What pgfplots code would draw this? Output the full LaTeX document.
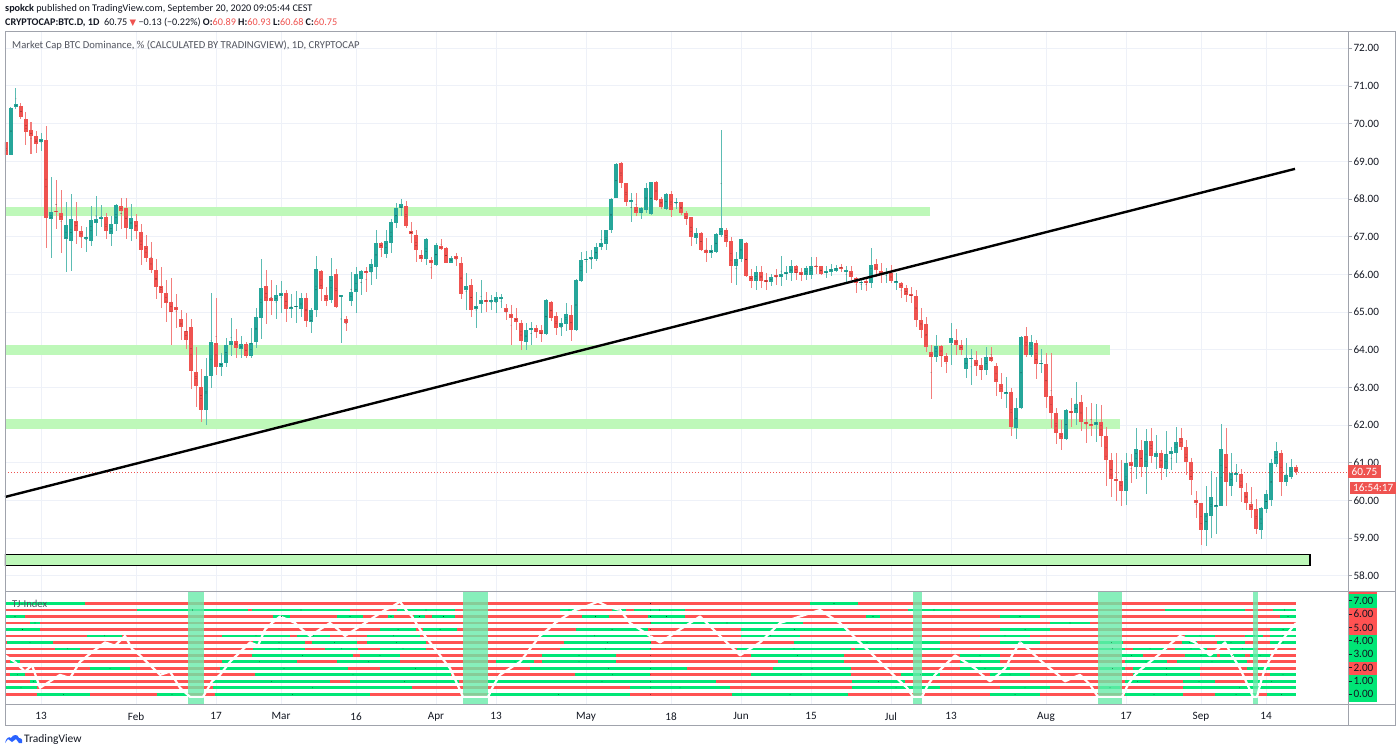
\documentclass[border=0pt]{standalone}
\usepackage{fontspec}
\setmainfont{Carlito}
\newfontfamily\dejavu{DejaVu Sans}
\usepackage{pgfplots}
\usepackage{pgfplotstable}
\pgfplotsset{compat=1.18}
\definecolor{tvup}{HTML}{26A69A}
\definecolor{tvdn}{HTML}{EF5350}
\definecolor{zone}{RGB}{190,248,185}
\definecolor{gridc}{RGB}{238,241,248}
\definecolor{framec}{RGB}{160,163,172}
\definecolor{txt}{HTML}{131722}
\definecolor{txtg}{HTML}{50535E}
\definecolor{tjred}{RGB}{255,82,82}
\definecolor{tjgreen}{RGB}{0,230,118}
\definecolor{band}{RGB}{105,235,170}
\definecolor{tvblue}{HTML}{2962FF}

\pgfplotstableread{
d o h l c
5 69.52 69.67 68.90 69.17
6 69.17 70.45 69.17 70.41
7 70.43 70.94 70.38 70.52
8 70.48 70.54 70.12 70.19
9 70.12 70.32 69.42 69.77
10 69.83 70.04 69.19 69.66
11 69.67 69.81 69.23 69.46
12 69.50 69.74 69.28 69.59
13 69.57 69.95 66.69 67.49
14 67.47 68.59 66.43 67.65
15 67.69 68.51 67.20 67.65
16 67.62 68.24 66.56 67.43
17 66.93 67.91 66.05 67.31
18 66.89 68.13 66.09 67.47
19 67.42 67.93 66.80 67.16
20 67.16 67.29 66.69 67.00
21 66.95 67.25 66.60 67.00
22 66.89 67.81 66.74 67.44
23 67.37 68.08 67.02 67.46
24 67.46 67.83 67.25 67.51
25 67.51 67.62 66.93 67.16
26 67.07 67.55 66.74 67.35
27 67.34 67.87 67.16 67.83
28 67.81 68.03 67.20 67.69
29 67.75 68.03 66.93 67.24
30 67.20 67.86 66.89 67.49
31 67.42 67.59 66.93 67.16
32 67.12 67.34 66.25 66.65
33 66.75 67.04 66.34 66.43
34 66.43 66.87 66.04 66.12
35 66.12 66.40 65.34 65.66
36 65.69 66.20 65.10 65.51
37 65.51 65.85 64.73 65.25
38 65.27 65.90 64.12 65.01
39 65.12 65.48 64.57 65.05
40 64.81 65.05 64.27 64.59
41 64.50 64.97 64.01 64.26
42 64.61 64.81 62.95 63.44
43 63.42 64.08 62.49 63.04
44 63.02 63.48 62.09 62.40
45 62.40 63.77 62.00 63.30
46 63.30 65.50 62.97 64.20
47 64.17 65.36 63.33 63.55
48 63.55 63.90 63.30 63.65
49 63.65 64.30 63.55 64.12
50 64.12 64.83 63.82 64.23
51 64.23 64.54 63.77 64.05
52 64.03 64.35 63.77 64.15
53 64.15 64.21 63.77 63.83
54 63.83 64.57 63.77 64.19
55 64.21 65.10 64.04 64.86
56 64.85 66.40 64.28 65.65
57 65.69 66.12 64.67 65.28
58 65.38 65.85 64.92 65.30
59 65.28 65.72 64.81 65.45
60 65.43 65.81 64.98 65.50
61 65.50 65.59 64.74 65.07
62 65.09 65.47 64.83 65.14
63 65.13 65.56 64.72 65.17
64 65.09 65.50 64.88 65.38
65 65.36 65.50 64.59 64.76
66 64.74 65.10 64.45 65.04
67 65.04 66.49 64.88 66.14
68 66.09 66.12 65.28 65.62
69 65.45 65.67 65.16 65.28
70 65.32 66.43 65.25 65.96
71 66.00 66.14 65.10 65.13
72 65.41 65.46 64.17 65.44
73 64.82 64.89 64.50 64.70
74 65.29 66.05 65.16 65.54
75 65.52 66.20 64.98 66.00
76 65.87 66.12 65.45 66.10
77 66.09 66.19 65.54 66.05
78 66.07 66.40 65.72 66.28
79 66.20 67.18 65.87 66.82
80 66.82 66.87 66.47 66.71
81 66.54 67.18 66.44 66.89
82 66.84 67.46 66.56 67.40
83 67.36 67.90 67.22 67.77
84 67.75 68.00 67.55 67.87
85 67.82 67.95 67.22 67.27
86 67.15 67.40 66.82 67.07
87 67.05 67.18 66.34 66.65
88 66.51 66.65 66.34 66.40
89 66.41 66.96 66.25 66.94
90 66.38 66.47 65.89 66.31
91 66.26 66.82 66.22 66.78
92 66.75 66.95 66.65 66.68
93 66.69 66.72 66.29 66.31
94 66.31 66.49 66.29 66.44
95 66.49 66.57 66.23 66.40
96 66.31 66.47 65.34 65.48
97 65.58 66.03 65.05 65.69
98 65.73 65.89 64.88 65.05
99 65.08 65.54 64.57 65.16
100 65.21 65.85 64.98 65.32
101 65.32 65.54 65.01 65.29
102 65.27 65.45 65.05 65.32
103 65.27 65.54 64.98 65.39
104 65.36 65.48 65.10 65.38
105 65.10 65.20 64.80 65.01
106 64.96 65.18 64.12 64.83
107 64.85 65.10 64.52 64.74
108 64.72 64.79 63.99 64.23
109 64.21 64.72 63.99 64.52
110 64.52 64.74 64.12 64.58
111 64.57 64.65 64.30 64.48
112 64.52 64.65 64.21 64.41
113 64.42 65.35 64.40 65.32
114 65.27 65.30 64.77 64.83
115 64.90 64.99 64.39 64.58
116 64.59 64.83 64.36 64.72
117 64.68 65.23 64.49 64.94
118 64.92 65.18 64.24 64.52
119 64.52 65.88 64.50 65.85
120 65.82 66.60 65.80 66.38
121 66.38 66.62 66.04 66.42
122 66.40 66.66 66.13 66.45
123 66.42 66.82 66.35 66.72
124 66.72 67.19 66.65 66.84
125 66.80 67.19 66.65 67.18
126 67.19 68.02 67.11 68.00
127 68.03 68.95 68.03 68.93
128 68.96 68.99 68.28 68.42
129 68.42 68.42 67.81 67.93
130 67.93 68.15 67.40 67.97
131 67.78 68.15 67.55 67.62
132 67.62 67.80 67.46 67.75
133 67.72 68.42 67.64 68.30
134 67.60 68.46 67.58 68.44
135 68.45 68.47 67.95 67.98
136 68.00 68.06 67.73 67.80
137 67.73 68.15 67.71 68.13
138 68.13 68.20 67.53 67.71
139 67.89 68.02 67.73 67.93
140 67.91 67.93 67.58 67.64
141 67.62 67.67 67.31 67.46
142 67.52 67.53 66.75 66.98
143 66.96 67.22 66.81 67.11
144 67.09 67.12 66.62 66.65
145 66.65 66.96 66.34 66.58
146 66.56 66.78 66.43 66.65
147 66.59 67.09 66.56 67.07
148 67.05 69.83 67.00 67.22
149 67.18 67.22 66.72 66.87
150 66.89 67.00 65.76 66.21
151 66.21 66.60 65.72 66.40
152 66.40 66.95 66.34 66.93
153 66.83 66.85 65.94 65.96
154 65.96 66.14 65.63 65.83
155 65.83 66.21 65.59 66.07
156 66.07 66.21 65.63 65.83
157 65.85 66.03 65.59 65.81
158 65.81 66.01 65.70 65.94
159 65.97 66.14 65.72 65.94
160 65.94 66.49 65.68 66.01
161 66.01 66.21 65.85 66.05
162 66.03 66.37 65.83 66.21
163 66.23 66.25 65.85 66.03
164 66.05 66.16 65.83 65.99
165 65.99 66.21 65.85 66.16
166 65.99 66.45 65.87 66.22
167 66.23 66.45 66.01 66.19
168 66.21 66.23 65.99 66.01
169 66.03 66.22 65.90 66.09
170 66.07 66.28 65.96 66.14
171 66.10 66.25 66.05 66.18
172 66.20 66.28 66.07 66.14
173 66.05 66.21 65.78 66.12
174 66.09 66.21 65.85 65.92
175 65.90 65.94 65.50 65.76
176 65.76 65.87 65.59 65.81
177 65.80 65.89 65.56 65.78
178 65.78 66.69 65.63 66.25
179 66.27 66.41 65.92 66.11
180 66.10 66.29 65.76 65.98
181 66.01 66.16 65.78 66.07
182 66.03 66.25 65.78 65.83
183 65.78 66.03 65.58 65.83
184 65.78 65.80 65.36 65.64
185 65.64 65.71 65.27 65.45
186 65.47 65.67 65.23 65.42
187 65.42 65.58 64.59 64.80
188 64.80 65.10 64.30 64.52
189 64.67 64.86 63.95 64.08
190 63.93 64.12 62.68 63.81
191 63.81 64.39 63.68 64.10
192 64.10 64.12 63.55 63.83
193 63.83 63.90 63.39 63.68
194 64.17 64.70 63.59 64.30
195 64.27 64.56 63.86 64.12
196 64.12 64.26 63.86 63.99
197 63.49 64.30 63.26 63.79
198 63.75 64.03 63.06 63.79
199 63.74 63.97 63.30 63.56
200 63.59 63.77 63.19 63.46
201 63.46 64.06 63.33 63.81
202 63.81 64.06 63.68 63.71
203 63.57 63.64 62.77 63.15
204 63.08 63.39 62.68 62.88
205 62.84 63.28 62.44 62.88
206 62.87 62.97 61.71 61.94
207 61.93 62.71 61.62 62.44
208 62.44 64.35 62.42 64.33
209 64.37 64.59 63.81 63.86
210 63.86 64.39 63.81 64.21
211 64.19 64.27 63.21 63.62
212 63.62 64.03 63.37 63.65
213 63.62 63.90 62.44 62.75
214 62.77 63.92 61.91 62.31
215 62.31 62.44 61.51 61.78
216 61.78 62.13 61.35 61.62
217 61.62 62.42 61.60 62.40
218 62.37 62.71 61.95 62.33
219 62.31 63.15 62.00 62.57
220 62.60 62.80 61.83 62.09
221 62.08 62.49 61.52 62.03
222 62.03 62.58 61.70 61.99
223 62.01 62.55 61.56 62.08
224 62.07 62.54 61.43 61.71
225 61.71 61.96 60.39 61.08
226 61.08 61.25 60.10 60.56
227 60.56 61.25 59.99 60.52
228 60.52 61.08 59.85 60.26
229 60.26 61.25 59.88 60.99
230 61.01 61.24 60.46 60.90
231 60.88 61.93 60.56 61.36
232 61.34 61.61 60.63 60.88
233 60.88 61.89 60.17 61.58
234 61.58 61.92 60.99 61.18
235 61.16 61.74 60.83 61.25
236 61.25 61.34 60.53 60.87
237 60.83 61.83 60.63 61.24
238 61.24 61.43 60.81 61.32
239 61.27 61.96 60.99 61.56
240 61.65 61.92 61.34 61.43
241 61.43 61.61 60.68 61.03
242 61.03 61.12 60.15 60.54
243 60.01 60.24 59.53 59.94
244 59.93 59.94 58.82 59.22
245 59.22 60.39 58.78 59.66
246 59.59 60.78 59.00 60.08
247 59.84 60.63 59.11 59.88
248 59.84 62.02 59.84 61.36
249 61.24 61.93 59.84 60.50
250 60.39 61.27 60.12 60.72
251 60.68 60.97 60.50 60.74
252 60.70 60.83 59.97 60.32
253 60.22 60.47 59.75 59.94
254 59.91 60.35 59.53 59.75
255 59.78 60.03 59.10 59.24
256 59.22 59.82 58.97 59.79
257 59.77 60.28 59.66 60.17
258 60.00 61.09 59.85 61.00
259 60.97 61.56 60.88 61.32
260 61.25 61.34 60.12 60.50
261 60.50 60.99 60.39 60.68
262 60.63 61.09 60.57 60.88
263 60.89 60.93 60.68 60.75
}\candles

% TJ-Index rows (x in chart pixels, k = row number)
\pgfplotstableread{
a b k
5 1296 0
5 1296 1
5 1296 2
5 1296 3
5 1296 4
5 1296 5
5 1296 6
5 1296 7
5 1296 8
5 1296 9
5 1296 10
5 1296 11
5 1296 12
5 1296 13
5 1296 14
}\tjredrows

\pgfplotstableread{
a b k
37 90 0
157 187 0
215 370 0
487 630 0
732 848 0
990 1040 0
1125 1183 0
1215 1257 0
1267 1296 0
5 37 1
213 412 1
630 730 1
852 940 1
1000 1050 1
1100 1120 1
1183 1296 1
30 37 2
213 330 2
350 459 2
488 716 2
852 905 2
1125 1150 2
1183 1215 2
1247 1296 2
10 25 3
255 451 3
575 650 3
751 851 3
901 940 3
990 1030 3
1133 1200 3
1270 1296 3
90 130 4
220 348 4
380 451 4
530 687 4
773 851 4
960 1010 4
1100 1125 4
1133 1200 4
1247 1270 4
10 20 5
222 297 5
337 400 5
496 534 5
542 616 5
778 844 5
960 1000 5
1125 1167 5
1177 1247 5
252 353 6
360 400 6
542 616 6
751 844 6
960 1000 6
1120 1143 6
1185 1217 6
1220 1245 6
1250 1270 6
55 80 7
253 305 7
325 358 7
380 426 7
560 651 7
737 851 7
855 940 7
1100 1125 7
1133 1167 7
1175 1207 7
1230 1255 7
7 53 8
253 305 8
312 357 8
367 426 8
564 651 8
794 940 8
1000 1040 8
1100 1123 8
1182 1197 8
1217 1245 8
1270 1296 8
87 122 9
222 290 9
297 330 9
367 420 9
541 648 9
741 800 9
980 1030 9
1185 1215 9
1245 1263 9
1270 1296 9
5 40 10
380 416 10
423 457 10
576 648 10
741 848 10
1000 1050 10
1270 1296 10
30 40 11
651 803 11
1050 1090 11
5 25 12
273 290 12
337 363 12
388 394 12
414 425 12
432 455 12
582 609 12
648 685 12
866 880 12
1000 1040 12
1280 1296 12
137 248 13
252 350 13
397 455 13
560 578 13
612 626 13
634 685 13
908 960 13
1165 1245 13
1273 1296 13
5 85 14
810 858 14
}\tjgreenrows

\pgfplotstableread{
x k
5 6
15 5
25 3.5
32 4.5
40 1
50 2
60 3
70 2.5
80 5
92 6.5
105 8
115 7.5
125 9
132 7
140 6
150 4.5
160 3
170 3.5
180 1
190 -0.4
203 -0.4
212 2
220 3
230 5
240 6.5
250 8
258 7.5
265 10
272 11
280 12
288 11.5
295 11
302 10
310 9
320 10
330 11
338 10
345 9
355 10
365 11
375 12
385 13
392 13.5
400 14.3
406 13
412 12
420 10
430 8
440 6
450 4
456 2
463 -0.4
488 -0.4
494 1.5
500 3
510 4
520 5
530 7
540 9
548 10
555 11
565 12
575 13
585 13.5
598 14.3
608 13.5
620 13
630 11
640 10
650 9
660 8
670 9
680 10
690 11
700 12
710 10.5
720 9
730 7.5
740 6
750 7
760 8
770 9.5
780 11
790 11.5
800 12
810 12.5
820 13
830 12
840 11
850 9.5
860 8
870 6.5
880 5
890 3.5
900 2
907 1
913 -0.4
922 -0.4
928 1.5
935 3
945 4.5
955 6
965 5
975 4
982 3
990 2
998 3
1005 4
1012 6
1020 8
1028 7
1035 6
1042 5
1050 4
1058 3
1065 2
1072 2.5
1080 3
1090 1.5
1098 -0.4
1122 -0.4
1128 1.5
1135 3
1142 4
1150 5
1158 6
1165 7
1172 8
1180 9
1188 8.5
1195 8
1202 7
1210 6
1218 7
1225 8
1232 6
1240 4
1246 2
1253 -0.4
1257 -0.4
1261 2
1265 4
1272 6
1280 8
1288 9.5
1296 11
}\tjwhite

\newcommand{\fsH}{\fontsize{10.2}{12}\selectfont}
\newcommand{\fsA}{\fontsize{10.6}{12}\selectfont}
\newcommand{\fsT}{\fontsize{11.2}{12}\selectfont}

\begin{document}
\begin{tikzpicture}[x=1pt,y=1pt]
\path[use as bounding box] (0,0) rectangle (1400,753);
\fill[white] (0,0) rectangle (1400,753);

% right label blocks of the lower panel
\fill[tjred]   (1348,158.7) rectangle (1377,161.3);
\fill[tjgreen] (1348,144.7) rectangle (1377,158.7);
\fill[tjred]   (1348,118.0) rectangle (1377,144.7);
\fill[tjgreen] (1348,91.3)  rectangle (1377,118.0);
\fill[tjred]   (1348,78.0)  rectangle (1377,91.3);
\fill[tjgreen] (1348,51.3)  rectangle (1377,78.0);

% ---------------- main panel
\begin{axis}[
  at={(5pt,162pt)}, anchor=south west,
  scale only axis, width=1343pt, height=559pt,
  xmin=4.8, xmax=273.4, ymin=57.594, ymax=72.433,
  axis line style={draw=none},
  xtick={12,31,47,60,75,91,103,121,138,152,166,182,194,213,229,244,257},
  xticklabels={},
  xtick style={draw=none},
  ytick={58,59,...,72},
  ytick pos=right, yticklabel pos=right,
  ytick style={draw=framec, line width=0.8pt},
  tick align=outside, major tick length=4pt,
  yticklabel style={font=\fsT, text=txt, xshift=-2pt},
  /pgf/number format/fixed, /pgf/number format/fixed zerofill,
  /pgf/number format/precision=2, /pgf/number format/assume math mode=true,
  xmajorgrids, ymajorgrids, major grid style={draw=gridc, line width=1pt},
]
% support / resistance zones
\addplot[fill=zone, draw=none] coordinates {(4.8,67.56) (189.8,67.56) (189.8,67.79) (4.8,67.79)} -- cycle;
\addplot[fill=zone, draw=none] coordinates {(4.8,63.85) (225.8,63.85) (225.8,64.12) (4.8,64.12)} -- cycle;
\addplot[fill=zone, draw=none] coordinates {(4.8,61.89) (227.8,61.89) (227.8,62.16) (4.8,62.16)} -- cycle;
\addplot[fill=zone, draw=black, line width=1.2pt] coordinates {(4.8,58.27) (265.8,58.27) (265.8,58.57) (4.8,58.57)} -- cycle;
% last price line
\addplot[tvdn, line width=0.8pt, dash pattern=on 1pt off 2pt] coordinates {(4.8,60.75) (273.4,60.75)};
% wicks
\addplot[only marks, mark=*, mark size=0.01pt, mark options={draw=none,fill=none},
  restrict expr to domain={\thisrow{c}-\thisrow{o}}{0:100},
  error bars/.cd, y dir=both, y explicit, error mark=none,
  error bar style={draw=tvup!75!white, line width=1pt}]
  table[x=d, y expr={(\thisrow{h}+\thisrow{l})/2}, y error expr={(\thisrow{h}-\thisrow{l})/2}] {\candles};
\addplot[only marks, mark=*, mark size=0.01pt, mark options={draw=none,fill=none},
  restrict expr to domain={\thisrow{c}-\thisrow{o}}{-100:-0.000001},
  error bars/.cd, y dir=both, y explicit, error mark=none,
  error bar style={draw=tvdn!75!white, line width=1pt}]
  table[x=d, y expr={(\thisrow{h}+\thisrow{l})/2}, y error expr={(\thisrow{h}-\thisrow{l})/2}] {\candles};
% bodies
\addplot[only marks, mark=*, mark size=0.01pt, mark options={draw=none,fill=none},
  restrict expr to domain={\thisrow{c}-\thisrow{o}}{0:100},
  error bars/.cd, y dir=both, y explicit, error mark=none,
  error bar style={draw=tvup, line width=3.6pt}]
  table[x=d, y expr={(\thisrow{o}+\thisrow{c})/2}, y error expr={max(abs(\thisrow{c}-\thisrow{o})/2,0.02)}] {\candles};
\addplot[only marks, mark=*, mark size=0.01pt, mark options={draw=none,fill=none},
  restrict expr to domain={\thisrow{c}-\thisrow{o}}{-100:-0.000001},
  error bars/.cd, y dir=both, y explicit, error mark=none,
  error bar style={draw=tvdn, line width=3.6pt}]
  table[x=d, y expr={(\thisrow{o}+\thisrow{c})/2}, y error expr={max(abs(\thisrow{c}-\thisrow{o})/2,0.02)}] {\candles};
% trend line
\addplot[black, line width=2.4pt] coordinates {(4.8,60.09) (262.8,68.80)};
\end{axis}

% ---------------- TJ-Index panel
\begin{axis}[
  at={(5pt,49pt)}, anchor=south west,
  scale only axis, width=1343pt, height=113pt,
  xmin=5, xmax=1348, ymin=-0.7255, ymax=7.726,
  axis line style={draw=none},
  xtick={41,136,216,281,356,436,496,586,671,741,811,891,951,1046,1126,1201,1266},
  xticklabels={13,Feb,17,Mar,16,Apr,13,May,18,Jun,15,Jul,13,Aug,17,Sep,14},
  xtick style={draw=none},
  xticklabel style={font=\fsT, text=txt, yshift=-1pt},
  ytick={0,1,...,7},
  ytick pos=right, yticklabel pos=right,
  ytick style={draw=txt, line width=0.8pt},
  tick align=outside, major tick length=4pt,
  yticklabel style={font=\fsT, text=txt, xshift=-2pt},
  /pgf/number format/fixed, /pgf/number format/fixed zerofill,
  /pgf/number format/precision=2, /pgf/number format/assume math mode=true,
  xmajorgrids, major grid style={draw=gridc, line width=1pt},
]
\addplot[only marks, mark=*, mark size=0.01pt, mark options={draw=none,fill=none},
  error bars/.cd, x dir=both, x explicit, error mark=none,
  error bar style={draw=tjred, line width=2.8pt}]
  table[x expr={(\thisrow{a}+\thisrow{b})/2}, y expr={\thisrow{k}*0.485}, x error expr={(\thisrow{b}-\thisrow{a})/2}] {\tjredrows};
\addplot[only marks, mark=*, mark size=0.01pt, mark options={draw=none,fill=none},
  error bars/.cd, x dir=both, x explicit, error mark=none,
  error bar style={draw=tjgreen, line width=2.8pt}]
  table[x expr={(\thisrow{a}+\thisrow{b})/2}, y expr={\thisrow{k}*0.485}, x error expr={(\thisrow{b}-\thisrow{a})/2}] {\tjgreenrows};
% signal bands
\addplot[fill=band, fill opacity=0.8, draw=none] coordinates {(188,-0.73) (204,-0.73) (204,7.73) (188,7.73)} -- cycle;
\addplot[fill=band, fill opacity=0.8, draw=none] coordinates {(463,-0.73) (488,-0.73) (488,7.73) (463,7.73)} -- cycle;
\addplot[fill=band, fill opacity=0.8, draw=none] coordinates {(913,-0.73) (922,-0.73) (922,7.73) (913,7.73)} -- cycle;
\addplot[fill=band, fill opacity=0.8, draw=none] coordinates {(1098,-0.73) (1122,-0.73) (1122,7.73) (1098,7.73)} -- cycle;
\addplot[fill=band, fill opacity=0.8, draw=none] coordinates {(1253,-0.73) (1258,-0.73) (1258,7.73) (1253,7.73)} -- cycle;
% index line
\addplot[white, line width=2.2pt, line join=round] table[x=x, y expr={\thisrow{k}*0.485}] {\tjwhite};
\end{axis}

% frame
\draw[framec, line width=1pt] (5,28) rectangle (1395,721);
\draw[framec, line width=1pt] (1348,28) -- (1348,721);
\draw[framec, line width=1pt] (5,162) -- (1395,162);
\draw[framec, line width=1pt] (5,49) -- (1395,49);

% last price labels
\node[fill=tvdn, text=white, anchor=west, inner xsep=3.5pt, inner ysep=0pt, minimum height=13pt, font=\fsT] at (1348,281) {60.75};
\node[fill=tvdn, text=white, anchor=west, inner xsep=3pt, inner ysep=0pt, minimum height=12.5pt, font=\fsT] at (1350,265) {16:54:17};

% header
\node[anchor=west, inner sep=0pt, text=txt, font=\fsH] at (5,744) {\textbf{spokck} published on TradingView.com, September 20, 2020 09:05:44 CEST};
\node[anchor=west, inner sep=0pt, text=txt, font=\fsH] at (5,730.5) {\textbf{CRYPTOCAP:BTC.D, 1D}\ \ 60.75 \textcolor{tvdn}{\dejavu\fontsize{8.5}{10}\selectfont ▼} −0.13 (−0.22\%) \textbf{O:}\textcolor{tvdn}{60.89} \textbf{H:}\textcolor{tvdn}{60.93} \textbf{L:}\textcolor{tvdn}{60.68} \textbf{C:}\textcolor{tvdn}{60.75}};
\node[anchor=west, inner sep=0pt, text=txtg, font=\fsA] at (12,708) {Market Cap BTC Dominance, \% (CALCULATED BY TRADINGVIEW), 1D, CRYPTOCAP};
\node[anchor=west, inner sep=0pt, text=txtg, font=\fsA] at (12,149) {TJ-Index};

% footer
\fill[tvblue] (5,10) .. controls (6,15) and (9,17) .. (11,15) .. controls (13,19) and (18,19) .. (19,15) .. controls (22,15) and (23,12) .. (22,10) -- (19,10) -- (16,14) -- (12,11) -- (8,14) -- cycle;
\node[anchor=west, inner sep=0pt, text=txt, font=\fontsize{11.5}{12}\selectfont] at (24,14) {TradingView};
\end{tikzpicture}
\end{document}
